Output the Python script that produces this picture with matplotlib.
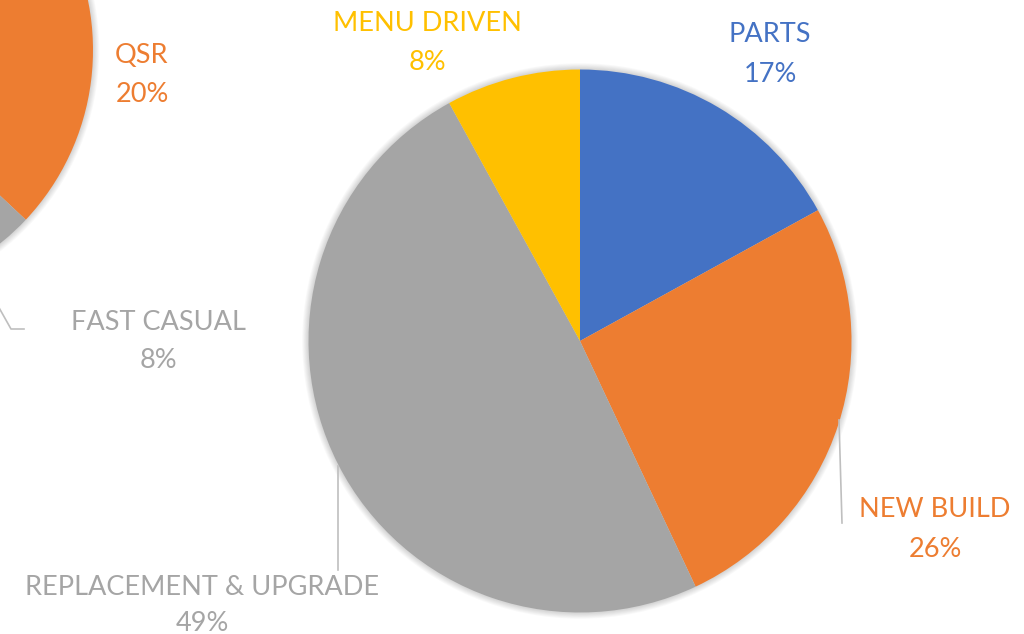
import numpy as np
import matplotlib.pyplot as plt
from matplotlib.patches import Circle

# main pie data
main_labels = ["PARTS", "NEW BUILD", "REPLACEMENT & UPGRADE", "MENU DRIVEN"]
main_pct = [17, 26, 49, 8]
main_colors = ["#4472C4", "#ED7D31", "#A5A5A5", "#FFC000"]

# second pie, cut off at the left edge; only two slices are visible
left_labels = ["QSR", "FAST CASUAL"]
left_pct = [20, 8]
left_start_pct = 17   # share of the (hidden) slice before QSR
left_colors = ["#ED7D31", "#A5A5A5"]

W, H = 1024, 634

def Y(y):
    # image rows -> axes coords (y up)
    return H - y

fig = plt.figure(figsize=(W / 100, H / 100), dpi=100)
ax = fig.add_axes([0, 0, 1, 1])

plt.rcParams['font.family'] = ['Lato', 'DejaVu Sans']
fs = 19.5

# soft shadow behind both pies
def shadow(cx, cy, r):
    for k in range(1, 8):
        ax.add_patch(Circle((cx, cy), r + k * 0.9, color="#000000", alpha=0.025, lw=0, zorder=0))

main_c = (580, Y(341))
main_r = 271.5
left_c = (-155, Y(50))
left_r = 248

shadow(*main_c, main_r)
shadow(*left_c, left_r)

ax.pie(main_pct, colors=main_colors, startangle=90, counterclock=False,
       center=main_c, radius=main_r, wedgeprops=dict(linewidth=0, zorder=2))

ax.pie([p / 100 for p in left_pct], colors=left_colors, normalize=False,
       startangle=90 - left_start_pct * 3.6, counterclock=False,
       center=left_c, radius=left_r, wedgeprops=dict(linewidth=0, zorder=2))

# label positions: x center, baseline of name, baseline of percent
main_pos = [(770, 42, 82), (935, 517, 557), (202, 595, 631), (427, 31, 70)]
left_pos = [(142, 63, 102), (158, 330, 368)]

for lab, p, col, (x, y1, y2) in zip(main_labels, main_pct, main_colors, main_pos):
    ax.text(x, Y(y1), lab, color=col, fontsize=fs, ha="center", va="baseline")
    ax.text(x, Y(y2), f"{p}%", color=col, fontsize=fs, ha="center", va="baseline")

for lab, p, col, (x, y1, y2) in zip(left_labels, left_pct, left_colors, left_pos):
    ax.text(x, Y(y1), lab, color=col, fontsize=fs, ha="center", va="baseline")
    ax.text(x, Y(y2), f"{p}%", color=col, fontsize=fs, ha="center", va="baseline")

# leader lines
lc = "#BFBFBF"
ax.plot([839, 842], [Y(420), Y(523)], color=lc, lw=1.2, zorder=3)
ax.plot([338, 338], [Y(466), Y(570)], color=lc, lw=1.2, zorder=3)
ax.plot([-25, 11, 24], [Y(265), Y(329), Y(329)], color=lc, lw=1.2, zorder=3)

ax.set_xlim(0, W)
ax.set_ylim(0, H)
ax.set_aspect("equal")
ax.axis("off")

fig.savefig("out.png", dpi=100)
